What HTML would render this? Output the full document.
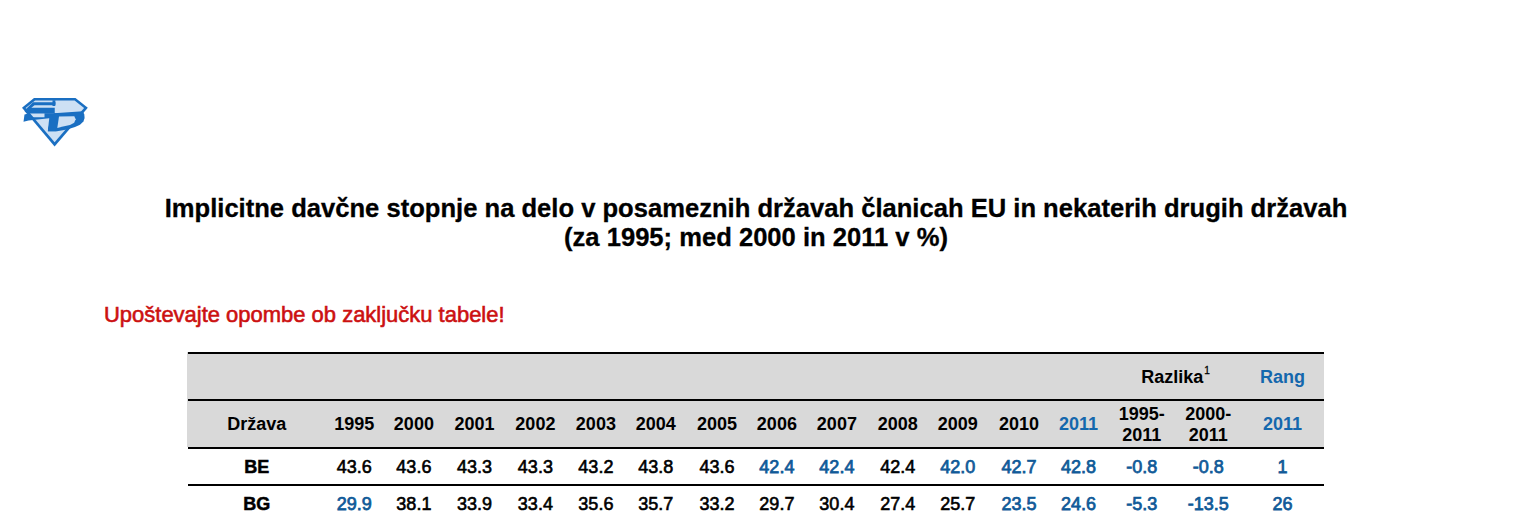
<!DOCTYPE html>
<html><head><meta charset="utf-8">
<style>
html,body{margin:0;padding:0;background:#fff;}
body{width:1540px;height:520px;position:relative;overflow:hidden;font-family:"Liberation Sans",sans-serif;}
.t{position:absolute;left:0;width:1512px;text-align:center;font-weight:bold;font-size:25.58px;line-height:29px;color:#000;white-space:nowrap;-webkit-text-stroke:0.3px #000;}
.red{position:absolute;left:104px;font-size:21.97px;line-height:24px;color:#cc1111;white-space:nowrap;-webkit-text-stroke:0.6px #cc1111;}
.tbl{position:absolute;left:187px;top:352px;width:1137px;height:95px;background:#d9d9d9;}
.ln{position:absolute;left:188px;width:1136px;height:2px;background:#000;}
.c{position:absolute;width:120px;text-align:center;line-height:20px;white-space:nowrap;-webkit-text-stroke:0.6px currentColor;}
.bl{-webkit-text-stroke:0.75px currentColor;}
.h{-webkit-text-stroke:0;}
.b{-webkit-text-stroke:0.5px currentColor;}
sup{font-size:10px;font-weight:normal;-webkit-text-stroke:0.3px #000;vertical-align:0;position:relative;top:-9px;margin-left:1px;}
svg{position:absolute;left:0;top:0;}
</style></head><body>
<svg width="100" height="160" viewBox="0 0 100 160">
<polygon points="34,98 75.5,98 87.8,107.7 54.6,146.6 22,107.7" fill="#1a6fc2"/>
<polygon points="35.1,100.5 74.6,100.5 84.1,108.1 54.6,142.3 25.6,108.1" fill="#cde0f4"/>
<g fill="#1a6fc2">
<polygon points="33,102.2 55.6,102.2 55.4,105.25 34.5,105.25 31.3,107.75 54.75,107.75 54.75,113.5 26.8,113.5 24.5,111 25.5,109.3 26.3,108.8"/>
<polygon points="24.5,114.5 28.5,113.6 29.2,115.5 31,117.25 44.5,117.25 44.5,113.3 57.5,113.3 57.5,118 49,118.2 28.5,120.5 23.5,121.8"/>
<polygon points="52.5,100.3 55.4,100.3 55.2,106 52.5,106"/>
<polygon points="49.5,116 58.8,116 56.4,131.3 47.8,131.3"/>
<polygon points="54,113.2 82.8,111.3 84.3,114.5 84.6,118 83.4,121.5 80,124.7 75,127.1 67,129.6 57,131.3 48,131.3 48,128.4"/>
</g>
<polygon points="59,116.4 74.3,116.2 75.7,119.2 74.2,122.8 70,125 63,126.6 57.3,127.9" fill="#cde0f4"/>
</svg>

<div class="t" style="top:193.64px">Implicitne davčne stopnje na delo v posameznih državah članicah EU in nekaterih drugih državah<br>(za 1995; med 2000 in 2011 v %)</div>
<div class="red" style="top:302.99px">Upoštevajte opombe ob zaključku tabele!</div>
<div class="tbl"></div>
<div class="ln" style="top:352px"></div>
<div class="ln" style="top:399px"></div>
<div class="ln" style="top:447px"></div>
<div class="ln" style="top:484px"></div>
<div class="c h" style="left:1115.60px;top:366.76px;color:#000;font-weight:bold;font-size:18px;">Razlika<sup>1</sup></div>
<div class="c h" style="left:1222.50px;top:366.76px;color:#1467ad;font-weight:bold;font-size:18px;">Rang</div>
<div class="c h" style="left:196.75px;top:413.76px;color:#000;font-weight:bold;font-size:18px;">Država</div>
<div class="c h" style="left:294.20px;top:413.76px;color:#000;font-weight:bold;font-size:18px;">1995</div>
<div class="c h" style="left:353.90px;top:413.76px;color:#000;font-weight:bold;font-size:18px;">2000</div>
<div class="c h" style="left:414.50px;top:413.76px;color:#000;font-weight:bold;font-size:18px;">2001</div>
<div class="c h" style="left:475.40px;top:413.76px;color:#000;font-weight:bold;font-size:18px;">2002</div>
<div class="c h" style="left:535.90px;top:413.76px;color:#000;font-weight:bold;font-size:18px;">2003</div>
<div class="c h" style="left:595.80px;top:413.76px;color:#000;font-weight:bold;font-size:18px;">2004</div>
<div class="c h" style="left:657.00px;top:413.76px;color:#000;font-weight:bold;font-size:18px;">2005</div>
<div class="c h" style="left:716.90px;top:413.76px;color:#000;font-weight:bold;font-size:18px;">2006</div>
<div class="c h" style="left:776.90px;top:413.76px;color:#000;font-weight:bold;font-size:18px;">2007</div>
<div class="c h" style="left:837.80px;top:413.76px;color:#000;font-weight:bold;font-size:18px;">2008</div>
<div class="c h" style="left:897.80px;top:413.76px;color:#000;font-weight:bold;font-size:18px;">2009</div>
<div class="c h" style="left:959.10px;top:413.76px;color:#000;font-weight:bold;font-size:18px;">2010</div>
<div class="c h" style="left:1018.60px;top:413.76px;color:#1467ad;font-weight:bold;font-size:18px;">2011</div>
<div class="c h" style="left:1081.70px;top:403.76px;color:#000;font-weight:bold;font-size:18px;">1995-</div>
<div class="c h" style="left:1081.70px;top:424.86px;color:#000;font-weight:bold;font-size:18px;">2011</div>
<div class="c h" style="left:1148.20px;top:403.76px;color:#000;font-weight:bold;font-size:18px;">2000-</div>
<div class="c h" style="left:1148.20px;top:424.86px;color:#000;font-weight:bold;font-size:18px;">2011</div>
<div class="c h" style="left:1222.50px;top:413.76px;color:#1467ad;font-weight:bold;font-size:18px;">2011</div>
<div class="c b" style="left:196.75px;top:456.76px;color:#000;font-weight:bold;font-size:18px;">BE</div>
<div class="c" style="left:294.20px;top:456.76px;color:#000;font-weight:normal;font-size:18px;">43.6</div>
<div class="c" style="left:353.90px;top:456.76px;color:#000;font-weight:normal;font-size:18px;">43.6</div>
<div class="c" style="left:414.50px;top:456.76px;color:#000;font-weight:normal;font-size:18px;">43.3</div>
<div class="c" style="left:475.40px;top:456.76px;color:#000;font-weight:normal;font-size:18px;">43.3</div>
<div class="c" style="left:535.90px;top:456.76px;color:#000;font-weight:normal;font-size:18px;">43.2</div>
<div class="c" style="left:595.80px;top:456.76px;color:#000;font-weight:normal;font-size:18px;">43.8</div>
<div class="c" style="left:657.00px;top:456.76px;color:#000;font-weight:normal;font-size:18px;">43.6</div>
<div class="c bl" style="left:716.90px;top:456.76px;color:#105a98;font-weight:normal;font-size:18px;">42.4</div>
<div class="c bl" style="left:776.90px;top:456.76px;color:#105a98;font-weight:normal;font-size:18px;">42.4</div>
<div class="c" style="left:837.80px;top:456.76px;color:#000;font-weight:normal;font-size:18px;">42.4</div>
<div class="c bl" style="left:897.80px;top:456.76px;color:#105a98;font-weight:normal;font-size:18px;">42.0</div>
<div class="c bl" style="left:959.10px;top:456.76px;color:#105a98;font-weight:normal;font-size:18px;">42.7</div>
<div class="c bl" style="left:1018.60px;top:456.76px;color:#105a98;font-weight:normal;font-size:18px;">42.8</div>
<div class="c bl" style="left:1081.70px;top:456.76px;color:#105a98;font-weight:normal;font-size:18px;">-0.8</div>
<div class="c bl" style="left:1148.20px;top:456.76px;color:#105a98;font-weight:normal;font-size:18px;">-0.8</div>
<div class="c bl" style="left:1222.50px;top:456.76px;color:#105a98;font-weight:normal;font-size:18px;">1</div>
<div class="c b" style="left:196.75px;top:493.76px;color:#000;font-weight:bold;font-size:18px;">BG</div>
<div class="c bl" style="left:294.20px;top:493.76px;color:#105a98;font-weight:normal;font-size:18px;">29.9</div>
<div class="c" style="left:353.90px;top:493.76px;color:#000;font-weight:normal;font-size:18px;">38.1</div>
<div class="c" style="left:414.50px;top:493.76px;color:#000;font-weight:normal;font-size:18px;">33.9</div>
<div class="c" style="left:475.40px;top:493.76px;color:#000;font-weight:normal;font-size:18px;">33.4</div>
<div class="c" style="left:535.90px;top:493.76px;color:#000;font-weight:normal;font-size:18px;">35.6</div>
<div class="c" style="left:595.80px;top:493.76px;color:#000;font-weight:normal;font-size:18px;">35.7</div>
<div class="c" style="left:657.00px;top:493.76px;color:#000;font-weight:normal;font-size:18px;">33.2</div>
<div class="c" style="left:716.90px;top:493.76px;color:#000;font-weight:normal;font-size:18px;">29.7</div>
<div class="c" style="left:776.90px;top:493.76px;color:#000;font-weight:normal;font-size:18px;">30.4</div>
<div class="c" style="left:837.80px;top:493.76px;color:#000;font-weight:normal;font-size:18px;">27.4</div>
<div class="c" style="left:897.80px;top:493.76px;color:#000;font-weight:normal;font-size:18px;">25.7</div>
<div class="c bl" style="left:959.10px;top:493.76px;color:#105a98;font-weight:normal;font-size:18px;">23.5</div>
<div class="c bl" style="left:1018.60px;top:493.76px;color:#105a98;font-weight:normal;font-size:18px;">24.6</div>
<div class="c bl" style="left:1081.70px;top:493.76px;color:#105a98;font-weight:normal;font-size:18px;">-5.3</div>
<div class="c bl" style="left:1148.20px;top:493.76px;color:#105a98;font-weight:normal;font-size:18px;">-13.5</div>
<div class="c bl" style="left:1222.50px;top:493.76px;color:#105a98;font-weight:normal;font-size:18px;">26</div>

</body></html>
